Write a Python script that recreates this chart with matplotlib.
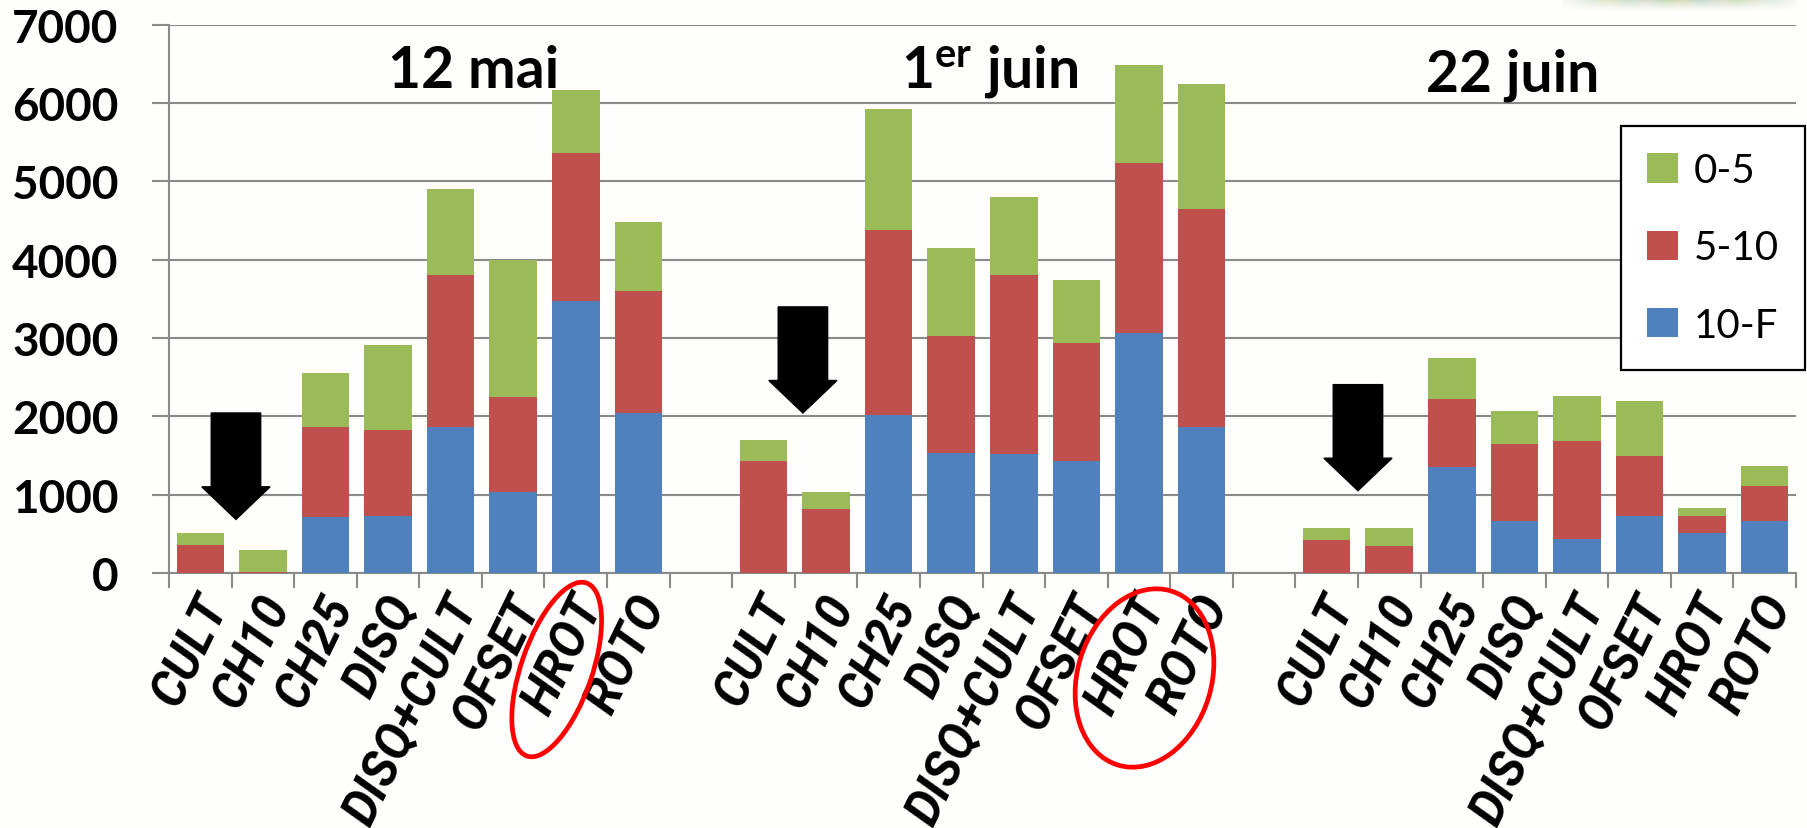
import numpy as np
import matplotlib
matplotlib.use("Agg")
import matplotlib.pyplot as plt
import matplotlib.transforms as mtransforms
from matplotlib.patches import Polygon, Ellipse
from matplotlib.ticker import FixedLocator, NullFormatter

plt.rcParams["font.family"] = ["Lato", "DejaVu Sans"]
plt.rcParams["mathtext.fontset"] = "custom"
plt.rcParams["mathtext.rm"] = "Lato"
plt.rcParams["mathtext.bf"] = "Lato:bold"

# ---- data -------------------------------------------------------------
dates = ["12 mai", r"$\mathbf{1^{er}}$ juin", "22 juin"]
treatments = ["CULT", "CH10", "CH25", "DISQ", "DISQ+CULT", "OFSET", "HROT", "ROTO"]
series_names = ["0-5", "5-10", "10-F"]

# depth class 10-F (bottom of each stack)
deep_12mai = [0, 0, 710, 730, 1860, 1040, 3470, 2040]
deep_1juin = [0, 0, 2020, 1530, 1520, 1430, 3070, 1860]
deep_22juin = [0, 0, 1350, 660, 440, 730, 510, 660]

# depth class 5-10 (middle)
mid_12mai = [360, 15, 1160, 1100, 1950, 1210, 1890, 1560]
mid_1juin = [1430, 820, 2360, 1500, 2280, 1510, 2170, 2790]
mid_22juin = [415, 350, 870, 990, 1240, 760, 220, 450]

# depth class 0-5 (top)
top_12mai = [150, 275, 680, 1080, 1090, 1740, 800, 880]
top_1juin = [270, 220, 1540, 1120, 1000, 800, 1240, 1590]
top_22juin = [165, 220, 530, 420, 580, 700, 100, 250]

y_ticks = [0, 1000, 2000, 3000, 4000, 5000, 6000, 7000]

# annotation arrows: (x centre, shaft top, head base, tip) in data units
arrows = [(0.57, 2043, 1100, 684),
          (9.63, 3397, 2458, 2043),
          (18.5, 2405, 1466, 1051)]

# ---- styling ----------------------------------------------------------
GREEN, RED, BLUE = "#9BBB59", "#C0504D", "#4F81BD"
GRID = "#8a8a8a"
BG = "#fefefc"
W, H, DPI = 1808, 829, 100

fig = plt.figure(figsize=(W / DPI, H / DPI), dpi=DPI, facecolor=BG)
ax = fig.add_axes([169 / W, 1 - 574 / H, (1796 - 169) / W, (574 - 25.7) / H])
ax.set_facecolor(BG)

n_per = len(treatments)
gap = 1
x_all, labels = [], []
deep, mid, top = [], [], []
for g, (d, m, t) in enumerate([(deep_12mai, mid_12mai, top_12mai),
                               (deep_1juin, mid_1juin, top_1juin),
                               (deep_22juin, mid_22juin, top_22juin)]):
    base = g * (n_per + gap)
    x_all += [base + i for i in range(n_per)]
    labels += treatments
    deep += d
    mid += m
    top += t

x_all = np.array(x_all)
deep, mid, top = map(np.array, (deep, mid, top))

bw = 0.76
b3 = ax.bar(x_all, deep, bw, color=BLUE, label=series_names[2], zorder=3)
b2 = ax.bar(x_all, mid, bw, bottom=deep, color=RED, label=series_names[1], zorder=3)
b1 = ax.bar(x_all, top, bw, bottom=deep + mid, color=GREEN, label=series_names[0], zorder=3)

n_slots = 3 * n_per + 2 * gap
ax.set_xlim(-0.5, n_slots - 0.5)
ax.set_ylim(0, 7000)

# y axis
ax.set_yticks(y_ticks)
ax.set_yticklabels([str(v) for v in y_ticks], fontsize=33, fontweight="bold")
ax.tick_params(axis="y", length=12.2, width=1.5, color=GRID, pad=24, direction="out")
ax.yaxis.grid(True, color=GRID, linewidth=1.5, zorder=0)
ax.set_axisbelow(True)

# x axis: boundary ticks + category labels
ax.xaxis.set_minor_locator(FixedLocator(np.arange(-0.5, n_slots, 1.0)))
ax.xaxis.set_minor_formatter(NullFormatter())
ax.set_xticks(x_all)
ax.set_xticklabels(labels, fontsize=35, fontweight="bold", fontstyle="italic",
                   family=["Roboto", "DejaVu Sans"],
                   rotation=64, ha="right", va="center", rotation_mode="anchor")
ax.tick_params(axis="x", which="major", length=0, pad=18)
ax.tick_params(axis="x", which="minor", length=10.8, width=1.5, color=GRID, direction="out")
shift = mtransforms.ScaledTranslation(16 / DPI, 0, fig.dpi_scale_trans)
for lab in ax.get_xticklabels():
    lab.set_transform(lab.get_transform() + shift)

for s in ("top", "right"):
    ax.spines[s].set_visible(False)
for s in ("left", "bottom"):
    ax.spines[s].set_color(GRID)
    ax.spines[s].set_linewidth(1.5)

# date headings
title_pos = [(4.37, 6210), (12.62, 6210), (20.98, 6160)]
for txt, (tx, ty) in zip(dates, title_pos):
    ax.text(tx, ty, txt, fontsize=41, fontweight="bold", ha="center", va="baseline")

# black block arrows
shaft_hw, head_hw = 0.395, 0.545
for xc, ytop, ybase, ytip in arrows:
    pts = [(xc - shaft_hw, ytop), (xc + shaft_hw, ytop), (xc + shaft_hw, ybase),
           (xc + head_hw, ybase), (xc, ytip), (xc - head_hw, ybase),
           (xc - shaft_hw, ybase)]
    ax.add_patch(Polygon(pts, closed=True, facecolor="black", edgecolor="black",
                         zorder=5, clip_on=False))

# red rings around the highlighted labels (pixel positions -> inches)
for cx, cy, w, h, ang in [(556.7, 670.5, 71, 183, -19), (1144.5, 679, 134, 182, -17)]:
    fig.patches.append(Ellipse((cx / DPI, (H - cy) / DPI), w / DPI, h / DPI, angle=ang,
                               fill=False, edgecolor="#ff0000", linewidth=3.4,
                               transform=fig.dpi_scale_trans))

# legend
leg = ax.legend(handles=[b1, b2, b3], loc="upper right",
                bbox_to_anchor=(1805 / W, 1 - 127 / H), bbox_transform=fig.transFigure,
                fontsize=29, frameon=True, fancybox=False, handlelength=0.75,
                handleheight=0.75, handletextpad=0.4, labelspacing=1.0,
                borderpad=0.65, borderaxespad=0)
leg.get_frame().set_edgecolor("black")
leg.get_frame().set_linewidth(1.6)
leg.get_frame().set_facecolor("white")
leg.get_frame().set_alpha(1)

# soft photo fragment at the upper-right edge
strip = fig.add_axes([1560 / W, 1 - 14 / H, 240 / W, 14 / H])
xs = np.linspace(0, 1, 240)
ys = np.linspace(0, 1, 14)
XX, YY = np.meshgrid(xs, ys)
alpha = np.clip(np.sin(np.pi * XX) ** 0.6 * (1 - YY) ** 1.5, 0, 1) * 0.55
img = np.zeros((14, 240, 4))
img[..., 0] = 0.62 + 0.08 * np.sin(XX * 40)
img[..., 1] = 0.72
img[..., 2] = 0.55 + 0.1 * np.sin(XX * 23)
img[..., 3] = alpha
strip.imshow(img, aspect="auto", interpolation="bilinear")
strip.axis("off")

fig.savefig("out.png", dpi=DPI, facecolor=BG)
